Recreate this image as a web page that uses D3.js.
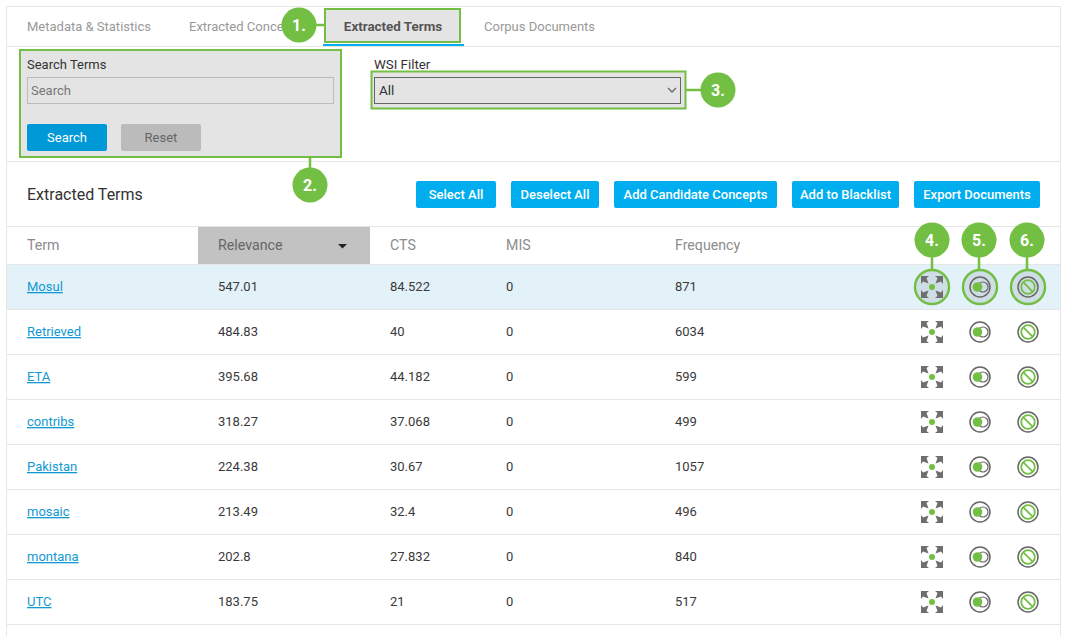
<!DOCTYPE html>
<html>
<head>
<meta charset="utf-8">
<script src="https://cdn.jsdelivr.net/npm/d3@7"></script>
<style>
html, body { margin: 0; padding: 0; background: #fff; overflow: hidden; }
svg { display: block; }
text { font-family: Roboto, "Liberation Sans", sans-serif; }
</style>
</head>
<body>
<svg></svg>
<script>
var terms = ['Mosul', 'Retrieved', 'ETA', 'contribs', 'Pakistan', 'mosaic', 'montana', 'UTC']
var relevance = ['547.01', '484.83', '395.68', '318.27', '224.38', '213.49', '202.8', '183.75']
var cts = ['84.522', '40', '44.182', '37.068', '30.67', '32.4', '27.832', '21']
var mis = ['0', '0', '0', '0', '0', '0', '0', '0']
var frequency = ['871', '6034', '599', '499', '1057', '496', '840', '517']
var columns = ['Term', 'Relevance', 'CTS', 'MIS', 'Frequency']
var tabs = ['Metadata & Statistics', 'Extracted Concepts', 'Extracted Terms', 'Corpus Documents']
var actions = ['Select All', 'Deselect All', 'Add Candidate Concepts', 'Add to Blacklist', 'Export Documents']
var icons = ['expand', 'toggle', 'block']

var green = '#72bf44'
var blue = '#00aeef'
var line = '#e6e6e6'
var grey = '#666'

var svg = d3.select('svg').attr('width', 1068).attr('height', 636)

var y = d3.scaleBand().domain(terms).range([265, 625])
var x = d3.scaleOrdinal().domain(columns).range([27, 218, 390, 506, 675])
var iconX = d3.scaleOrdinal().domain(icons).range([932, 980, 1028])

function rect(x0, y0, w, h, fill, stroke, sw, r) {
    return svg.append('rect')
        .attr('x', x0).attr('y', y0).attr('width', w).attr('height', h)
        .attr('fill', fill).attr('stroke', stroke || 'none').attr('stroke-width', sw || 0)
        .attr('rx', r || 0)
}

function label(x0, y0, str, size, color, weight, anchor) {
    return svg.append('text')
        .attr('x', x0).attr('y', y0).text(str)
        .attr('font-size', size).attr('fill', color)
        .attr('font-weight', weight || 400)
        .attr('text-anchor', anchor || 'start')
}

function hline(x1, x2, y0, color, sw) {
    svg.append('line').attr('x1', x1).attr('x2', x2).attr('y1', y0).attr('y2', y0)
        .attr('stroke', color).attr('stroke-width', sw || 1)
}

function vline(x0, y1, y2, color, sw) {
    svg.append('line').attr('x1', x0).attr('x2', x0).attr('y1', y1).attr('y2', y2)
        .attr('stroke', color).attr('stroke-width', sw || 1)
}

// outer frame
hline(6, 1060, 6.5, line)
vline(6.5, 6, 636, line)
vline(1060.5, 6, 636, line)
hline(6, 1060, 46.5, line)
hline(6, 1060, 161.5, line)

// tabs
rect(325, 9, 135, 33, '#e4e4e4', green, 2)
rect(323, 44, 141, 2, blue)
var tabX = d3.scaleOrdinal().domain(tabs).range([27, 189, 393, 484])
tabs.forEach(function (t, i) {
    var on = i == 2
    label(tabX(t), 31, t, on ? 13.4 : 13, on ? '#555' : '#999', on ? 700 : 400, on ? 'middle' : 'start')
})

// search box
rect(20, 50, 321, 107, '#e4e4e4', green, 2)
label(27, 69, 'Search Terms', 13, '#333')
rect(27.5, 77.5, 306, 26, '#e4e4e4', '#bbb', 1)
label(31, 95, 'Search', 13, '#777')
rect(27, 124, 80, 27, '#0099d8', null, 0, 2)
label(67, 142, 'Search', 13, '#fff', 400, 'middle')
rect(121, 124, 80, 27, '#bbb', null, 0, 2)
label(161, 142, 'Reset', 13, '#666', 400, 'middle')

// WSI filter
label(374, 69, 'WSI Filter', 13.3, '#333')
rect(371.5, 71.5, 314, 37, '#e4e4e4', green, 2)
rect(374.5, 77.5, 306, 26, '#e4e4e4', '#666', 1)
label(379, 95, 'All', 13.5, '#333')
svg.append('path').attr('d', 'M668 88l4 4 4-4').attr('fill', 'none').attr('stroke', '#666').attr('stroke-width', 1.3)

// toolbar
label(27, 200, 'Extracted Terms', 16, '#333')
var btnLeft = [416, 511, 614, 792, 914]
var btnRight = [496, 599, 777, 899, 1040]
actions.forEach(function (a, i) {
    rect(btnLeft[i], 181, btnRight[i] - btnLeft[i], 27, blue, null, 0, 2)
    label((btnLeft[i] + btnRight[i]) / 2, 199, a, 13, '#fff', 500, 'middle')
})

// table header
hline(6, 1060, 226.5, line)
rect(198, 227, 172, 37, '#c2c2c2')
columns.forEach(function (c) {
    label(x(c), 250, c, 14.2, c == 'Relevance' ? '#666' : '#8c8c8c')
})
svg.append('path').attr('d', 'M338 244h9l-4.5 4.5z').attr('fill', '#222')
hline(6, 1060, 264.5, line)

// rows
rect(7, y('Mosul'), 1053, y.bandwidth() - 1, '#e3f1f9')
terms.forEach(function (t, i) {
    var base = y(t) + 26
    hline(6, 1060, y(t) + y.bandwidth() - 0.5, line)
    label(x('Term'), base, t, 13, '#1199d2').attr('text-decoration', 'underline')
    label(x('Relevance'), base, relevance[i], 13, '#3a3a3a')
    label(x('CTS'), base, cts[i], 13, '#3a3a3a')
    label(x('MIS'), base, mis[i], 13, '#3a3a3a')
    label(x('Frequency'), base, frequency[i], 13, '#3a3a3a')
})

// row icons
function drawIcon(kind, cx, cy) {
    var g = svg.append('g').attr('transform', 'translate(' + cx + ',' + cy + ')')
    if (kind == 'expand') {
        ;[[1, 1], [1, -1], [-1, 1], [-1, -1]].forEach(function (s) {
            g.append('path')
                .attr('d', 'M11 11V3L9 5.5 3.5 3.5 5.5 9 3 11Z')
                .attr('transform', 'scale(' + s[0] + ',' + s[1] + ')')
                .attr('fill', '#6e6e6e')
        })
        g.append('circle').attr('r', 3).attr('fill', green)
    }
    if (kind == 'toggle') {
        g.append('circle').attr('r', 10).attr('fill', 'none').attr('stroke', grey).attr('stroke-width', 1.5)
        g.append('circle').attr('cx', 3).attr('r', 5).attr('fill', 'none').attr('stroke', grey).attr('stroke-width', 1.2)
        g.append('circle').attr('cx', -2.5).attr('r', 4.8).attr('fill', green)
    }
    if (kind == 'block') {
        g.append('circle').attr('r', 10).attr('fill', 'none').attr('stroke', grey).attr('stroke-width', 1.5)
        g.append('circle').attr('r', 6.8).attr('fill', 'none').attr('stroke', green).attr('stroke-width', 1.8)
        g.append('line').attr('x1', -4.8).attr('y1', -4.8).attr('x2', 4.8).attr('y2', 4.8)
            .attr('stroke', green).attr('stroke-width', 1.8)
    }
}

icons.forEach(function (k) {
    var cy = y('Mosul') + 22
    svg.append('circle').attr('cx', iconX(k)).attr('cy', cy).attr('r', 17)
        .attr('fill', '#cfdde5').attr('stroke', green).attr('stroke-width', 2.5)
    terms.forEach(function (t) {
        drawIcon(k, iconX(k), y(t) + 22)
    })
})

// callouts
var bubbleNames = ['1.', '2.', '3.', '4.', '5.', '6.']
var bubbleX = [299, 310, 718, 932, 979, 1027]
var bubbleY = [25, 185, 90, 240, 240, 240]
vline(310, 157, 170, green, 2.5)
hline(310, 325, 25, green, 2.5)
hline(685, 702, 90, green, 2.5)
bubbleX.slice(3).forEach(function (bx) { vline(bx, 250, 270, green, 2.5) })
bubbleNames.forEach(function (n, i) {
    svg.append('circle').attr('cx', bubbleX[i]).attr('cy', bubbleY[i]).attr('r', 17.5).attr('fill', green)
    label(bubbleX[i], bubbleY[i] + 6, n, 16, '#fff', 700, 'middle')
})
</script>
</body>
</html>
